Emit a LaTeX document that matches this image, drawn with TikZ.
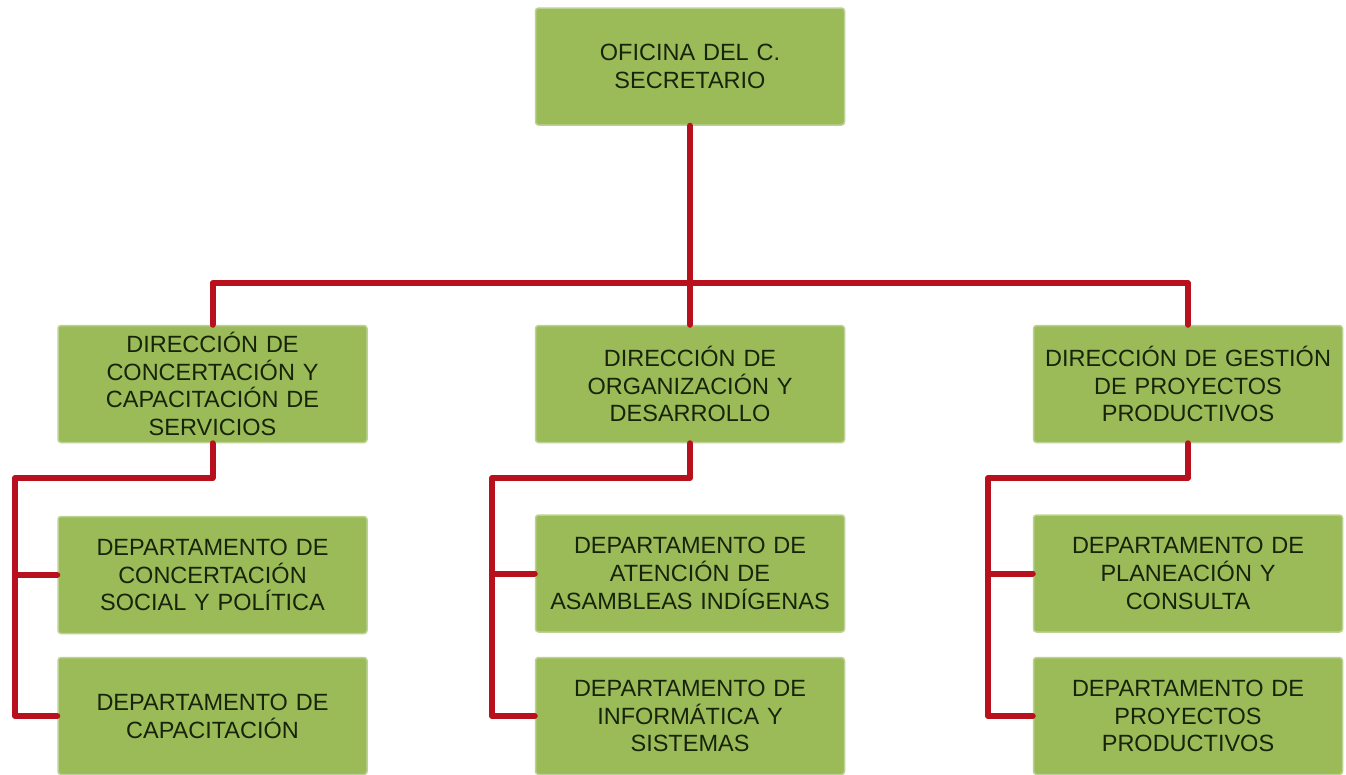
\documentclass[tikz,border=0pt]{standalone}
\usepackage{fontspec}
\setmainfont{Liberation Sans}
\definecolor{boxfill}{HTML}{9BBB59}
\definecolor{boxline}{HTML}{BCD292}
\definecolor{boxtext}{HTML}{18240A}
\definecolor{conn}{HTML}{B8101C}
\tikzset{
  orgbox/.style={draw=boxline, line width=1.5pt, fill=boxfill, rounded corners=3pt,
    minimum width=309pt, minimum height=117pt, text width=304pt, inner sep=0pt,
    align=center, text=boxtext, font=\fontsize{23.5}{27.8}\selectfont},
  link/.style={draw=conn, line width=6pt, line join=round, line cap=round}
}
\begin{document}
\begin{tikzpicture}[x=1pt,y=-1pt]
\useasboundingbox (0,0) rectangle (1346,774);
\node[orgbox] (top) at (690,66.5) {OFICINA DEL C.\\SECRETARIO};
\node[orgbox] (dl) at (212.5,384) {DIRECCIÓN DE\\CONCERTACIÓN Y\\CAPACITACIÓN DE\\SERVICIOS};
\node[orgbox] (dm) at (690,384) {DIRECCIÓN DE\\ORGANIZACIÓN Y\\DESARROLLO};
\node[orgbox] (dr) at (1188,384) {DIRECCIÓN DE GESTIÓN\\DE PROYECTOS\\PRODUCTIVOS};
\node[orgbox] (l1) at (212.5,575) {DEPARTAMENTO DE\\CONCERTACIÓN\\SOCIAL Y POLÍTICA};
\node[orgbox] (l2) at (212.5,716) {DEPARTAMENTO DE\\CAPACITACIÓN};
\node[orgbox] (m1) at (690,573.5) {DEPARTAMENTO DE\\ATENCIÓN DE\\ASAMBLEAS INDÍGENAS};
\node[orgbox] (m2) at (690,716) {DEPARTAMENTO DE\\INFORMÁTICA Y\\SISTEMAS};
\node[orgbox] (r1) at (1188,573.5) {DEPARTAMENTO DE\\PLANEACIÓN Y\\CONSULTA};
\node[orgbox] (r2) at (1188,716) {DEPARTAMENTO DE\\PROYECTOS\\PRODUCTIVOS};
\coordinate (bus) at (690,283);
\coordinate (lk) at (15,478);
\coordinate (mk) at (492,478);
\coordinate (rk) at (988,478);
\draw[link] (top.south) -- (dm.north);
\draw[link] (dl.north) -- (dl.north |- bus) -- (dr.north |- bus) -- (dr.north);
\draw[link] (dl.south) |- (lk) -- (lk |- l2.west) -- (l2.west);
\draw[link] (lk |- l1.west) -- (l1.west);
\draw[link] (dm.south) |- (mk) -- (mk |- m2.west) -- (m2.west);
\draw[link] (mk |- m1.west) -- (m1.west);
\draw[link] (dr.south) |- (rk) -- (rk |- r2.west) -- (r2.west);
\draw[link] (rk |- r1.west) -- (r1.west);
\end{tikzpicture}
\end{document}
